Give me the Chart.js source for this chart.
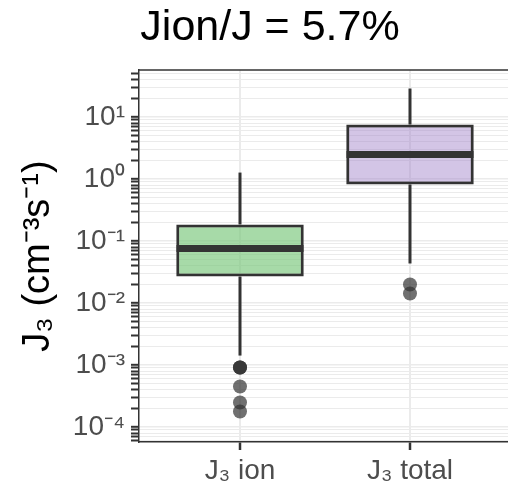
<!DOCTYPE html>
<html>
<head>
<meta charset="utf-8">
<script src="https://cdn.jsdelivr.net/npm/chart.js@4"></script>
<style>
  html, body { margin: 0; padding: 0; background: #fff; overflow: hidden; }
  #wrap { width: 508px; height: 496px; }
</style>
</head>
<body>
<div id="wrap"><canvas id="graph1"></canvas></div>
<script>
// boxplot summary
var categories = ['J₃ ion', 'J₃ total']
var whiskerLow = [0.00142, 0.0434]
var q1 = [0.0267, 0.815]
var median = [0.0757, 2.48]
var q3 = [0.185, 7.57]
var whiskerHigh = [1.27, 28.8]
var outliersIon = [9.1e-4, 9.1e-4, 9.1e-4, 4.5e-4, 2.48e-4, 1.78e-4]
var outliersTotal = [0.0199, 0.0142]

// y axis
var tickValues = [1e-4, 1e-3, 1e-2, 1e-1, 1, 10]
var tickLabels = ['10⁻⁴', '10⁻³', '10⁻²', '10⁻¹', '10⁰', '10¹']

var yMin = 5.73e-5
var yMax = 57.3

// grid lines at every 1..9 x 10^n
var gridValues = []
for (var e = -5; e <= 2; e++) {
    for (var m = 1; m <= 9; m++) {
        var v = Number((m * Math.pow(10, e)).toPrecision(6))
        if (v >= yMin && v <= yMax) gridValues.push(v)
    }
}

function isDecade(v) {
    var l = Math.log10(v)
    return Math.abs(l - Math.round(l)) < 1e-6
}

Chart.defaults.font.family = "'Liberation Sans', Arial, sans-serif"

var fills = ['rgba(120, 198, 121, 0.65)', 'rgba(158, 127, 200, 0.45)']

// panel top line
var topBorder = {
    id: 'topBorder',
    afterDatasetsDraw: function (chart) {
        var ctx = chart.ctx, a = chart.chartArea
        ctx.save()
        ctx.strokeStyle = '#333'
        ctx.lineWidth = 1.5
        ctx.beginPath()
        ctx.moveTo(a.left, a.top)
        ctx.lineTo(a.right, a.top)
        ctx.stroke()
        ctx.restore()
    }
}

var data = {
    datasets: [
        {
            type: 'scatter',
            label: 'outliers',
            order: 0,
            data: outliersIon.map(function (v) { return { x: 1, y: v } })
                .concat(outliersTotal.map(function (v) { return { x: 2, y: v } })),
            pointRadius: 7,
            backgroundColor: 'rgba(51, 51, 51, 0.7)',
            borderWidth: 0
        },
        {
            type: 'scatter',
            label: 'median',
            order: 1,
            data: median.map(function (v, i) { return { x: i + 1, y: v } }),
            pointStyle: 'line',
            pointRadius: 63.5,
            borderColor: '#333',
            borderWidth: 7
        },
        {
            type: 'bar',
            label: 'box',
            order: 2,
            grouped: false,
            data: q1.map(function (v, i) { return { x: i + 1, y: [v, q3[i]] } }),
            backgroundColor: fills,
            borderColor: '#333',
            borderWidth: 3,
            borderSkipped: false,
            barPercentage: 0.75,
            categoryPercentage: 1
        },
        {
            type: 'bar',
            label: 'upper whisker',
            order: 3,
            grouped: false,
            data: q3.map(function (v, i) { return { x: i + 1, y: [v, whiskerHigh[i]] } }),
            backgroundColor: '#333',
            borderWidth: 0,
            maxBarThickness: 3
        },
        {
            type: 'bar',
            label: 'lower whisker',
            order: 3,
            grouped: false,
            data: q1.map(function (v, i) { return { x: i + 1, y: [whiskerLow[i], v] } }),
            backgroundColor: '#333',
            borderWidth: 0,
            maxBarThickness: 3
        }
    ]
}

var options = {
    responsive: true,
    maintainAspectRatio: false,
    animation: false,
    events: [],
    layout: { autoPadding: false, padding: { left: 0, right: -32, top: 0, bottom: 0 } },
    plugins: {
        legend: { display: false },
        tooltip: { enabled: false },
        title: {
            display: true,
            text: 'Jion/J = 5.7%',
            color: '#000',
            font: { size: 43, weight: 'normal' },
            padding: { top: 2, bottom: 16.4 }
        }
    },
    scales: {
        x: {
            type: 'linear',
            min: 0.40588,
            max: 2.5765,
            offset: false,
            afterBuildTicks: function (s) {
                s.ticks = categories.map(function (c, i) { return { value: i + 1 } })
            },
            afterFit: function (s) {
                s.height = 54
                s.paddingLeft = 0
                s.paddingRight = 0
            },
            ticks: {
                autoSkip: false,
                maxRotation: 0,
                color: '#4d4d4d',
                font: { size: 28 },
                padding: 4,
                callback: function (v) { return categories[v - 1] || '' }
            },
            grid: {
                offset: false,
                color: '#ebebeb',
                lineWidth: 2,
                tickColor: '#333',
                tickLength: 8,
                tickWidth: 2.5
            },
            border: { display: true, color: '#333', width: 1.5 }
        },
        y: {
            type: 'logarithmic',
            min: yMin,
            max: yMax,
            afterBuildTicks: function (s) {
                s.ticks = gridValues.map(function (v) { return { value: v } })
            },
            afterFit: function (s) {
                s.width = 139
                s.paddingTop = 0
                s.paddingBottom = 0
            },
            ticks: {
                autoSkip: false,
                color: '#4d4d4d',
                font: { size: 28 },
                padding: 6,
                callback: function (v) {
                    var k = tickValues.findIndex(function (t) { return Math.abs(t - v) / t < 1e-6 })
                    return k >= 0 ? tickLabels[k] : ''
                }
            },
            grid: {
                color: '#ebebeb',
                lineWidth: function (c) { return c.tick && isDecade(c.tick.value) ? 1.6 : 1 },
                tickColor: '#333',
                tickLength: 8,
                tickWidth: 2
            },
            border: { display: true, color: '#333', width: 1.5 },
            title: {
                display: true,
                text: 'J₃ (cm⁻³s⁻¹)',
                color: '#000',
                font: { size: 38 },
                padding: { top: 16, bottom: 0 }
            }
        }
    }
}

var config = {
    type: 'bar',
    data: data,
    options: options,
    plugins: [topBorder]
}

var graph1 = new Chart(document.getElementById('graph1').getContext('2d'), config)
</script>
</body>
</html>
